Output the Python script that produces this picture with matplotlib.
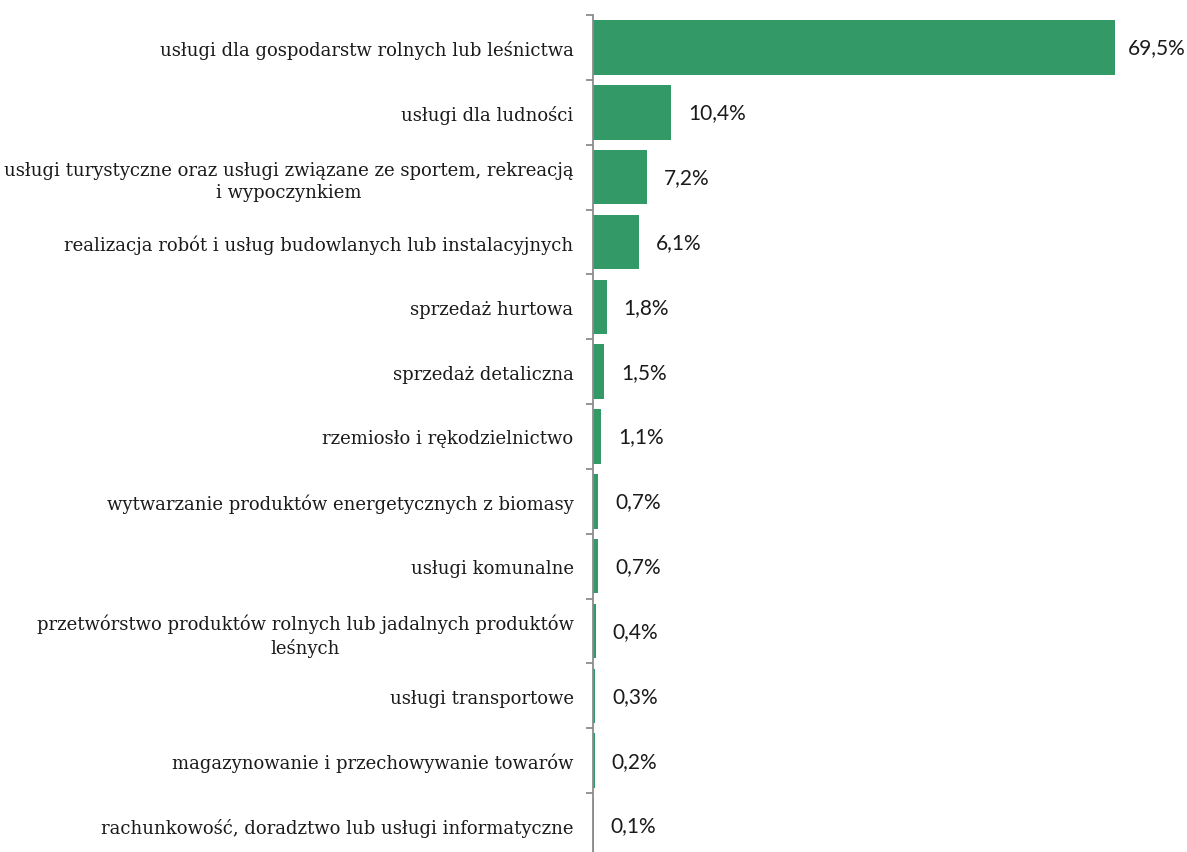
import matplotlib
matplotlib.use("Agg")
import matplotlib.pyplot as plt
import numpy as np

categories = [
    "usługi dla gospodarstw rolnych lub leśnictwa",
    "usługi dla ludności",
    "usługi turystyczne oraz usługi związane ze sportem, rekreacją\ni wypoczynkiem",
    "realizacja robót i usług budowlanych lub instalacyjnych",
    "sprzedaż hurtowa",
    "sprzedaż detaliczna",
    "rzemiosło i rękodzielnictwo",
    "wytwarzanie produktów energetycznych z biomasy",
    "usługi komunalne",
    "przetwórstwo produktów rolnych lub jadalnych produktów\nleśnych",
    "usługi transportowe",
    "magazynowanie i przechowywanie towarów",
    "rachunkowość, doradztwo lub usługi informatyczne",
]
values = [69.5, 10.4, 7.2, 6.1, 1.8, 1.5, 1.1, 0.7, 0.7, 0.4, 0.3, 0.2, 0.1]
value_labels = ["69,5%", "10,4%", "7,2%", "6,1%", "1,8%", "1,5%", "1,1%",
                "0,7%", "0,7%", "0,4%", "0,3%", "0,2%", "0,1%"]

W, H = 1187, 853
fig = plt.figure(figsize=(W / 100, H / 100), dpi=100)
top_px, bot_px = 16.0, 859.0
left_px, right_px = 593.0, 1187.0
ax = fig.add_axes([left_px / W, (H - bot_px) / H, (right_px - left_px) / W, (bot_px - top_px) / H])

n = len(categories)
y = np.arange(n)
bar_color = "#339966"
ax.barh(y, values, height=0.84, color=bar_color)
ax.set_ylim(n - 0.5, -0.5)
ax.set_xlim(0, (right_px - left_px) / ((1115 - 593) / 69.5))

for s in ["top", "right", "bottom"]:
    ax.spines[s].set_visible(False)
ax.spines["left"].set_color("#8c8c8c")
ax.spines["left"].set_linewidth(1.3)
ax.set_xticks([])

ax.set_yticks(y)
ax.set_yticklabels(categories, fontfamily="DejaVu Serif", fontsize=13, color="#1a1a1a")
for t in ax.get_yticklabels():
    t.set_multialignment("center")
    t.set_linespacing(1.3)
ax.tick_params(axis="y", which="major", length=0, pad=14)
ax.set_yticks(np.arange(n + 1) - 0.5, minor=True)
ax.tick_params(axis="y", which="minor", length=5, color="#8c8c8c", width=1.3, direction="out")

for i, (yi, v, lab) in enumerate(zip(y, values, value_labels)):
    off = 9 if i == 0 else 12
    ax.annotate(lab, (v, yi), xytext=(off, 0), textcoords="offset points",
                va="center", ha="left", fontsize=15, fontfamily="Lato", color="#1a1a1a",
                annotation_clip=False)

fig.savefig("out.png", dpi=100)
